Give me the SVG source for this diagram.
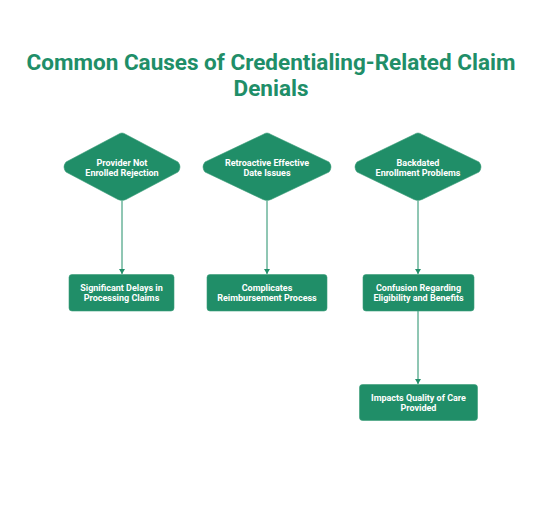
<svg xmlns="http://www.w3.org/2000/svg" width="547" height="522" viewBox="0 0 547 522">
<style>
.t{font-family:Roboto,"Liberation Sans",sans-serif;font-weight:700;fill:#208e68;font-size:22.5px;text-anchor:middle}
.n{font-family:Roboto,"Liberation Sans",sans-serif;font-weight:700;fill:#ffffff;font-size:9px;text-anchor:middle}
.s{fill:#208e68;stroke:#3a9d79;stroke-width:0.6;stroke-linejoin:round}
.c{stroke:#208e68;stroke-width:1;fill:none}
</style>
<defs>
<marker id="ah" markerWidth="6" markerHeight="6" refX="5" refY="3" orient="auto" markerUnits="userSpaceOnUse">
<path d="M0,0 L5,3 L0,6 Z" fill="#208e68"/>
</marker>
</defs>
<rect width="547" height="522" fill="#ffffff"/>
<g id="title">
<text class="t" x="271" y="70">Common Causes of Credentialing-Related Claim</text>
<text class="t" x="271" y="96">Denials</text>
</g>
<g id="connectors">
<line class="c" x1="122" y1="201" x2="122" y2="274" marker-end="url(#ah)"/>
<line class="c" x1="267" y1="201" x2="267" y2="274" marker-end="url(#ah)"/>
<line class="c" x1="418" y1="201" x2="418" y2="274" marker-end="url(#ah)"/>
<line class="c" x1="418" y1="311" x2="418" y2="384" marker-end="url(#ah)"/>
</g>
<g id="d1">
<path class="s" d="M122,133 Q124,133 126,134.5 L178,162 Q182,167 178,172 L126,199.5 Q122,201.5 118,199.5 L66,172 Q62,167 66,162 L118,134.5 Q120,133 122,133 Z"/>
<text class="n" x="122" y="166">Provider Not</text>
<text class="n" x="122" y="176">Enrolled Rejection</text>
</g>
<g id="d2">
<path class="s" d="M267,133 Q269,133 271,134.5 L329,162 Q333,167 329,172 L271,199.5 Q267,201.5 263,199.5 L205,172 Q201,167 205,162 L263,134.5 Q265,133 267,133 Z"/>
<text class="n" x="267" y="166">Retroactive Effective</text>
<text class="n" x="267" y="176">Date Issues</text>
</g>
<g id="d3">
<path class="s" d="M418,133 Q420,133 422,134.5 L479,162 Q483,167 479,172 L422,199.5 Q418,201.5 414,199.5 L357,172 Q353,167 357,162 L414,134.5 Q416,133 418,133 Z"/>
<text class="n" x="418" y="166">Backdated</text>
<text class="n" x="418" y="176">Enrollment Problems</text>
</g>
<g id="r1">
<rect class="s" x="69" y="274.5" width="105" height="36.5" rx="3"/>
<text class="n" x="121.5" y="291">Significant Delays in</text>
<text class="n" x="121.5" y="301">Processing Claims</text>
</g>
<g id="r2">
<rect class="s" x="207" y="274.5" width="120" height="36.5" rx="3"/>
<text class="n" x="267" y="291">Complicates</text>
<text class="n" x="267" y="301">Reimbursement Process</text>
</g>
<g id="r3">
<rect class="s" x="363" y="274.5" width="111" height="36.5" rx="3"/>
<text class="n" x="418.5" y="291">Confusion Regarding</text>
<text class="n" x="418.5" y="301">Eligibility and Benefits</text>
</g>
<g id="r4">
<rect class="s" x="359.5" y="384.5" width="118" height="36" rx="3"/>
<text class="n" x="418.5" y="401">Impacts Quality of Care</text>
<text class="n" x="418.5" y="411">Provided</text>
</g>
</svg>
